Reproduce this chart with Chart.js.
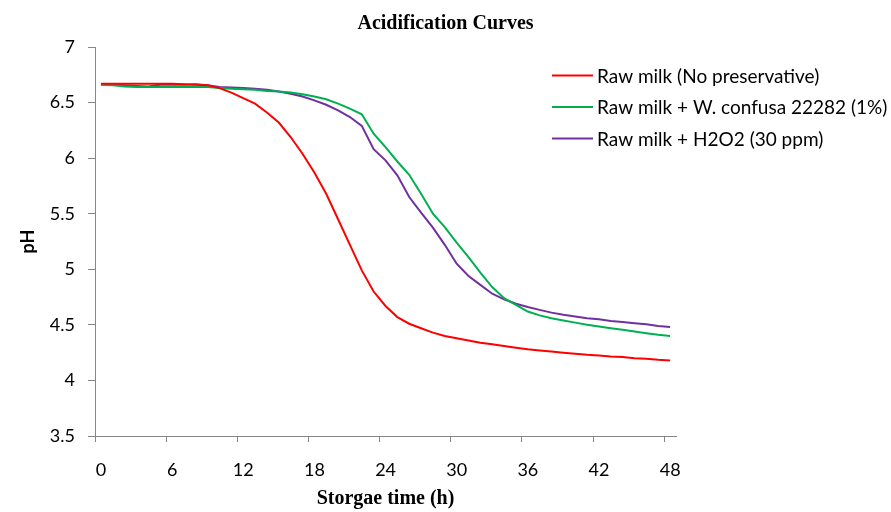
<!DOCTYPE html>
<html>
<head>
<meta charset="utf-8">
<script src="https://cdn.jsdelivr.net/npm/chart.js@4.4.1/dist/chart.umd.min.js"></script>
<style>
  html, body { margin: 0; padding: 0; background: #fff; }
  #wrap { width: 891px; height: 512px; }
</style>
</head>
<body>
<div id="wrap"><canvas id="chart" width="891" height="512"></canvas></div>
<script>
// Acidification curves — pH vs storage time
const HOURS = [
  0, 1, 2, 3, 4, 5, 6, 7, 8, 9, 10, 11, 12, 13, 14, 15, 16, 17, 18, 19, 20, 21, 22, 23, 24,
  25, 26, 27, 28, 29, 30, 31, 32, 33, 34, 35, 36, 37, 38, 39, 40, 41, 42, 43, 44, 45, 46, 47, 48
];
const RAW_MILK = [
  6.67, 6.67, 6.67, 6.67, 6.67, 6.67, 6.67, 6.665, 6.66, 6.655, 6.63, 6.59, 6.54, 6.49, 6.41, 6.32,
  6.19, 6.04, 5.87, 5.68, 5.45, 5.22, 4.99, 4.80, 4.67, 4.57, 4.51, 4.47, 4.43, 4.40, 4.38, 4.36,
  4.34, 4.325, 4.31, 4.295, 4.28, 4.27, 4.26, 4.25, 4.24, 4.23, 4.225, 4.215, 4.21, 4.20, 4.195, 4.185, 4.18
];
const W_CONFUSA = [
  6.66, 6.655, 6.645, 6.64, 6.64, 6.64, 6.64, 6.64, 6.64, 6.64, 6.63, 6.625, 6.62, 6.615, 6.605, 6.60,
  6.59, 6.575, 6.555, 6.53, 6.49, 6.445, 6.395, 6.22, 6.10, 5.97, 5.85, 5.68, 5.50, 5.38, 5.24, 5.11,
  4.97, 4.84, 4.74, 4.68, 4.62, 4.585, 4.56, 4.54, 4.52, 4.50, 4.485, 4.47, 4.455, 4.44, 4.425, 4.41, 4.40
];
const H2O2 = [
  6.665, 6.66, 6.655, 6.65, 6.645, 6.66, 6.66, 6.66, 6.665, 6.655, 6.64, 6.635, 6.63, 6.625, 6.615, 6.60,
  6.58, 6.555, 6.52, 6.48, 6.43, 6.37, 6.29, 6.08, 5.98, 5.845, 5.65, 5.51, 5.375, 5.22, 5.05, 4.94,
  4.86, 4.78, 4.73, 4.69, 4.66, 4.635, 4.61, 4.59, 4.575, 4.56, 4.55, 4.535, 4.525, 4.515, 4.505, 4.49, 4.48
];
const X_TICKS = [0, 6, 12, 18, 24, 30, 36, 42, 48];
const SERIES_NAMES = [
  'Raw milk (No preservative)',
  'Raw milk + W. confusa 22282 (1%)',
  'Raw milk + H2O2 (30 ppm)'
];

const RED = '#ff0000';
const GREEN = '#00b050';
const PURPLE = '#7030a0';
const AXIS_COLOR = '#868686';
const SANS = "Lato, 'Open Sans', sans-serif";
const SERIF = "'Liberation Serif', 'DejaVu Serif', serif";

const points = values => HOURS.map((h, i) => ({ x: h, y: values[i] }));

// legend sits inside the plot, top right
const insideLegendPlugin = {
  id: 'insideLegend',
  afterDraw(chart) {
    const { ctx } = chart;
    const rows = chart.data.datasets;
    ctx.save();
    ctx.font = `19px ${SANS}`;
    ctx.textBaseline = 'middle';
    ctx.textAlign = 'left';
    rows.forEach((ds, i) => {
      const y = 75.5 + i * 31.5;
      ctx.strokeStyle = ds.borderColor;
      ctx.lineWidth = 2;
      ctx.beginPath();
      ctx.moveTo(552, y);
      ctx.lineTo(593, y);
      ctx.stroke();
      ctx.fillStyle = '#000';
      ctx.fillText(ds.label, 597, y + 1);
    });
    ctx.restore();
  }
};

const lineStyle = color => ({
  borderColor: color,
  backgroundColor: color,
  borderWidth: 2,
  pointRadius: 0,
  tension: 0,
  fill: false,
});

new Chart(document.getElementById('chart'), {
  type: 'line',
  plugins: [insideLegendPlugin],
  data: {
    datasets: [
      { label: SERIES_NAMES[0], data: points(RAW_MILK), ...lineStyle(RED) },
      { label: SERIES_NAMES[1], data: points(W_CONFUSA), ...lineStyle(GREEN) },
      { label: SERIES_NAMES[2], data: points(H2O2), ...lineStyle(PURPLE) },
    ],
  },
  options: {
    responsive: false,
    animation: false,
    events: [],
    layout: { padding: 0 },
    plugins: {
      legend: { display: false },
      tooltip: { enabled: false },
      title: {
        display: true,
        text: 'Acidification Curves',
        color: '#000',
        font: { family: SERIF, size: 20, weight: 'bold' },
        padding: { top: 12, bottom: 11 },
      },
    },
    scales: {
      x: {
        type: 'linear',
        min: -0.5,
        max: 48.5,
        // Excel-style: tick marks sit half an hour left of the labels
        afterBuildTicks: scale => { scale.ticks = X_TICKS.map(h => ({ value: h - 0.5 })); },
        afterFit: scale => { scale.height = 76; },
        grid: { display: true, drawOnChartArea: false, color: AXIS_COLOR, tickLength: 6 },
        border: { color: AXIS_COLOR, width: 1 },
        ticks: {
          color: '#000',
          font: { family: SANS, size: 18 },
          padding: 17,
          labelOffset: 6,
          maxRotation: 0,
          callback: v => String(v + 0.5),
        },
        title: {
          display: true,
          text: 'Storgae time (h)',
          color: '#000',
          font: { family: SERIF, size: 20, weight: 'bold' },
          padding: { top: 0, bottom: 1 },
        },
      },
      y: {
        min: 3.5,
        max: 7,
        afterFit: scale => { scale.width = 95; },
        grid: { display: true, drawOnChartArea: false, color: AXIS_COLOR, tickLength: 7 },
        border: { color: AXIS_COLOR, width: 1 },
        ticks: {
          stepSize: 0.5,
          color: '#000',
          font: { family: SANS, size: 18 },
          padding: 13,
          callback: v => String(Number(v)),
        },
        title: {
          display: true,
          text: 'pH',
          color: '#000',
          font: { family: SANS, size: 18, weight: 'bold' },
          padding: { top: 17, bottom: 0 },
        },
      },
      // empty strip on the right that holds the legend
      yLegendSpace: {
        position: 'right',
        min: 0,
        max: 1,
        afterFit: scale => { scale.width = 215; },
        grid: { display: false },
        border: { display: false },
        ticks: { display: false },
      },
    },
  },
});
</script>
</body>
</html>
